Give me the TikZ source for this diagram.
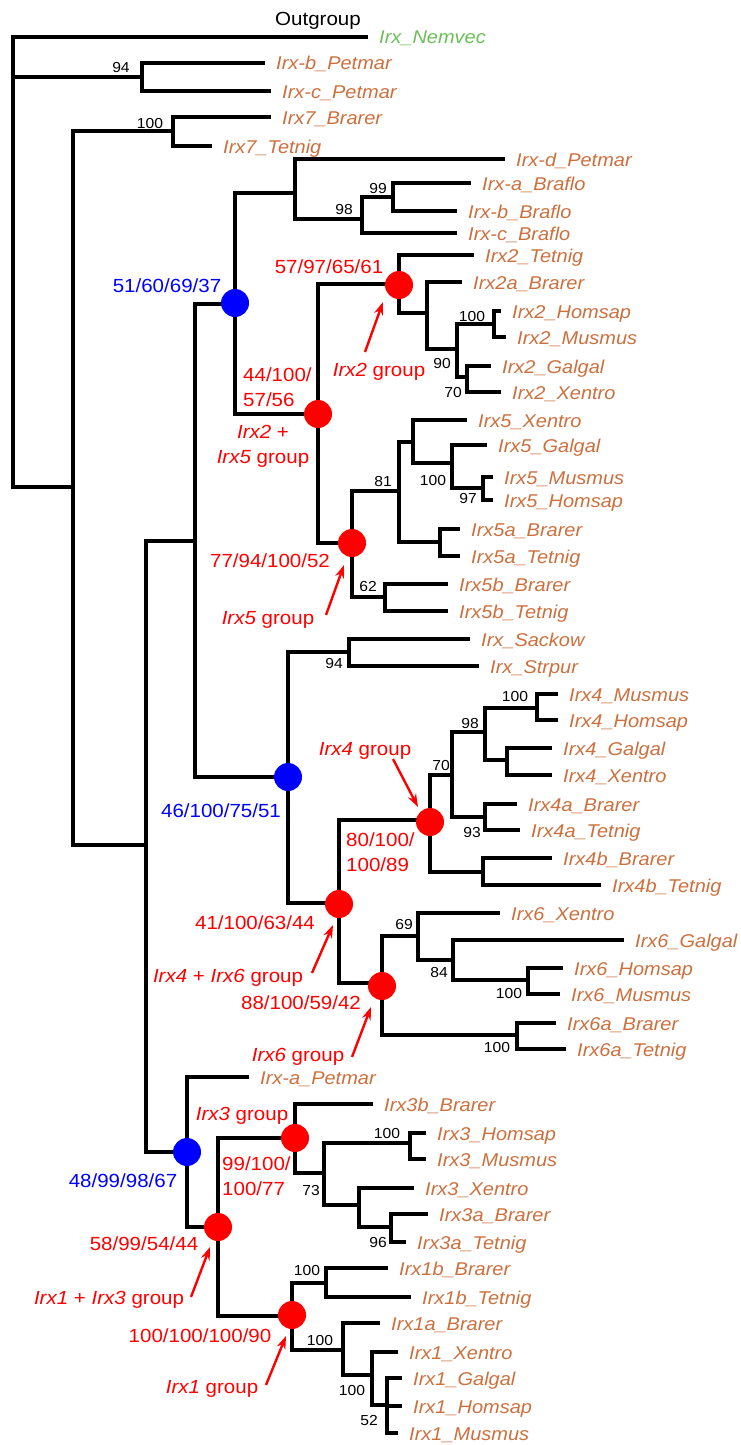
\documentclass[tikz,border=0pt]{standalone}
\usepackage{fontspec}
\setmainfont{Liberation Sans}[FakeStretch=1.08]
\usetikzlibrary{arrows.meta}
\definecolor{taxcol}{RGB}{204,112,62}
\definecolor{outcol}{RGB}{107,191,89}
\newcommand{\leaf}[4]{\coordinate (#1) at (#2-2,#3); \node[taxon] (#1-t) at (#2+11,#3+7) {#4};}
\newcommand{\inode}[3]{\coordinate (#1) at (#2,#3);}
\newcommand{\br}[2]{\draw[branch] (#1) |- (#2);}
\newcommand{\bs}[4]{\node[boot] (#1) at (#2,#3+5) {#4};}
\begin{document}
\begin{tikzpicture}[x=1pt,y=-1pt,
 branch/.style={line width=4.2pt, line join=miter, line cap=rect, black},
 taxon/.style={anchor=base west, inner sep=0pt, text=taxcol, font=\fontsize{18.5}{22}\selectfont\itshape},
 boot/.style={anchor=base, inner sep=0pt, font=\fontsize{14.5}{16}\selectfont},
 redlab/.style={anchor=base, inner sep=0pt, text=red, font=\fontsize{19}{25}\selectfont},
 bluelab/.style={redlab, text=blue},
 rdot/.style={circle, fill=red, minimum size=28pt, inner sep=0pt},
 bdot/.style={rdot, fill=blue},
 arr/.style={red, line width=2.4pt, -{Stealth[length=13pt,width=9pt]}}]
\path[fill=white] (0,0) rectangle (741,1445);
% internal nodes
\inode{R}{13}{487}
\inode{P1}{142}{77}
\inode{B}{73}{487}
\inode{S7}{173}{131}
\inode{C}{146}{845}
\inode{D}{195}{541}
\inode{F}{235}{304}
\inode{H}{295}{193}
\inode{J}{362}{219}
\inode{K}{393}{197}
\inode{I}{318}{414}
\inode{L}{399}{284}
\inode{N}{427}{313}
\inode{O}{457}{349}
\inode{P}{494}{324}
\inode{Q}{467}{377}
\inode{M}{352}{543}
\inode{S5}{399}{491}
\inode{U}{413}{442}
\inode{W}{452}{463}
\inode{X}{483}{488}
\inode{V}{440}{542}
\inode{T}{385}{597}
\inode{G}{288}{777}
\inode{Y}{349}{652}
\inode{Z}{339}{903}
\inode{AA}{430}{820}
\inode{AC}{452}{775}
\inode{AE}{485}{732}
\inode{AG}{537}{708}
\inode{AH}{507}{760}
\inode{AF}{485}{817}
\inode{AD}{483}{872}
\inode{AB}{382}{983}
\inode{AI}{418}{936}
\inode{AK}{453}{960}
\inode{AL}{528}{980}
\inode{AJ}{517}{1035}
\inode{E}{187}{1152}
\inode{AM}{218}{1227}
\inode{AN}{295}{1138}
\inode{AP}{324}{1173}
\inode{AQ}{410}{1143}
\inode{AR}{359}{1205}
\inode{AS}{391}{1227}
\inode{AO}{292}{1316}
\inode{AT}{326}{1283}
\inode{AU}{343}{1350}
\inode{AV}{372}{1375}
\inode{AW}{387}{1405}
% leaves
\leaf{nem}{368}{37}{\textcolor{outcol}{Irx\_Nemvec}}
\leaf{bpet}{265}{63}{Irx-b\_Petmar}
\leaf{cpet}{271}{91}{Irx-c\_Petmar}
\leaf{b7}{271}{117}{Irx7\_Brarer}
\leaf{t7}{212}{146}{Irx7\_Tetnig}
\leaf{dpet}{505}{159}{Irx-d\_Petmar}
\leaf{abra}{471}{183}{Irx-a\_Braflo}
\leaf{bbra}{457}{211}{Irx-b\_Braflo}
\leaf{cbra}{457}{233}{Irx-c\_Braflo}
\leaf{t2}{474}{255}{Irx2\_Tetnig}
\leaf{b2a}{462}{282}{Irx2a\_Brarer}
\leaf{h2}{501}{311}{Irx2\_Homsap}
\leaf{m2}{506}{337}{Irx2\_Musmus}
\leaf{g2}{491}{366}{Irx2\_Galgal}
\leaf{x2}{501}{392}{Irx2\_Xentro}
\leaf{x5}{467}{420}{Irx5\_Xentro}
\leaf{g5}{487}{445}{Irx5\_Galgal}
\leaf{m5}{493}{477}{Irx5\_Musmus}
\leaf{h5}{493}{500}{Irx5\_Homsap}
\leaf{b5a}{460}{529}{Irx5a\_Brarer}
\leaf{t5a}{460}{556}{Irx5a\_Tetnig}
\leaf{b5b}{448}{584}{Irx5b\_Brarer}
\leaf{t5b}{448}{611}{Irx5b\_Tetnig}
\leaf{sac}{470}{639}{Irx\_Sackow}
\leaf{str}{479}{666}{Irx\_Strpur}
\leaf{m4}{558}{694}{Irx4\_Musmus}
\leaf{h4}{558}{720}{Irx4\_Homsap}
\leaf{g4}{552}{748}{Irx4\_Galgal}
\leaf{x4}{552}{775}{Irx4\_Xentro}
\leaf{b4a}{517}{804}{Irx4a\_Brarer}
\leaf{t4a}{520}{830}{Irx4a\_Tetnig}
\leaf{b4b}{552}{858}{Irx4b\_Brarer}
\leaf{t4b}{601}{885}{Irx4b\_Tetnig}
\leaf{x6}{500}{913}{Irx6\_Xentro}
\leaf{g6}{624}{940}{Irx6\_Galgal}
\leaf{h6}{563}{968}{Irx6\_Homsap}
\leaf{m6}{560}{994}{Irx6\_Musmus}
\leaf{b6a}{556}{1023}{Irx6a\_Brarer}
\leaf{t6a}{566}{1049}{Irx6a\_Tetnig}
\leaf{apet}{249}{1077}{Irx-a\_Petmar}
\leaf{b3b}{373}{1104}{Irx3b\_Brarer}
\leaf{h3}{426}{1133}{Irx3\_Homsap}
\leaf{m3}{426}{1159}{Irx3\_Musmus}
\leaf{x3}{414}{1188}{Irx3\_Xentro}
\leaf{b3a}{428}{1214}{Irx3a\_Brarer}
\leaf{t3a}{406}{1242}{Irx3a\_Tetnig}
\leaf{b1b}{388}{1268}{Irx1b\_Brarer}
\leaf{t1b}{411}{1297}{Irx1b\_Tetnig}
\leaf{b1a}{380}{1323}{Irx1a\_Brarer}
\leaf{x1}{398}{1352}{Irx1\_Xentro}
\leaf{g1}{402}{1378}{Irx1\_Galgal}
\leaf{h1}{402}{1406}{Irx1\_Homsap}
\leaf{m1}{398}{1433}{Irx1\_Musmus}
% branches
\br{R}{nem}\br{R}{P1}\br{R}{B}
\br{P1}{bpet}\br{P1}{cpet}
\br{B}{S7}\br{B}{C}
\br{S7}{b7}\br{S7}{t7}
\br{C}{D}\br{C}{E}
\br{D}{F}\br{D}{G}
\br{F}{H}\br{F}{I}
\br{H}{dpet}\br{H}{J}
\br{J}{K}\br{J}{cbra}
\br{K}{abra}\br{K}{bbra}
\br{I}{L}\br{I}{M}
\br{L}{t2}\br{L}{N}
\br{N}{b2a}\br{N}{O}
\br{O}{P}\br{O}{Q}
\br{P}{h2}\br{P}{m2}
\br{Q}{g2}\br{Q}{x2}
\br{M}{S5}\br{M}{T}
\br{S5}{U}\br{S5}{V}
\br{U}{x5}\br{U}{W}
\br{W}{g5}\br{W}{X}
\br{X}{m5}\br{X}{h5}
\br{V}{b5a}\br{V}{t5a}
\br{T}{b5b}\br{T}{t5b}
\br{G}{Y}\br{G}{Z}
\br{Y}{sac}\br{Y}{str}
\br{Z}{AA}\br{Z}{AB}
\br{AA}{AC}\br{AA}{AD}
\br{AC}{AE}\br{AC}{AF}
\br{AE}{AG}\br{AE}{AH}
\br{AG}{m4}\br{AG}{h4}
\br{AH}{g4}\br{AH}{x4}
\br{AF}{b4a}\br{AF}{t4a}
\br{AD}{b4b}\br{AD}{t4b}
\br{AB}{AI}\br{AB}{AJ}
\br{AI}{x6}\br{AI}{AK}
\br{AK}{g6}\br{AK}{AL}
\br{AL}{h6}\br{AL}{m6}
\br{AJ}{b6a}\br{AJ}{t6a}
\br{E}{apet}\br{E}{AM}
\br{AM}{AN}\br{AM}{AO}
\br{AN}{b3b}\br{AN}{AP}
\br{AP}{AQ}\br{AP}{AR}
\br{AQ}{h3}\br{AQ}{m3}
\br{AR}{x3}\br{AR}{AS}
\br{AS}{b3a}\br{AS}{t3a}
\br{AO}{AT}\br{AO}{AU}
\br{AT}{b1b}\br{AT}{t1b}
\br{AU}{b1a}\br{AU}{AV}
\br{AV}{x1}\br{AV}{AW}
\br{AW}{g1}\br{AW}{h1}\br{AW}{m1}
% bootstrap values
\bs{b94a}{121}{68}{94}
\bs{b100a}{150}{123}{100}
\bs{b98a}{344}{209}{98}
\bs{b99a}{378}{188}{99}
\bs{b90}{442}{363}{90}
\bs{b100b}{472}{316}{100}
\bs{b70a}{453}{392}{70}
\bs{b81}{383}{481}{81}
\bs{b100c}{433}{480}{100}
\bs{b97}{468}{498}{97}
\bs{b62}{368}{586}{62}
\bs{b94b}{334}{663}{94}
\bs{b70b}{441}{765}{70}
\bs{b98b}{470}{723}{98}
\bs{b100d}{515}{696}{100}
\bs{b93}{472}{832}{93}
\bs{b69}{404}{924}{69}
\bs{b84}{439}{972}{84}
\bs{b100e}{509}{993}{100}
\bs{b100f}{497}{1047}{100}
\bs{b73}{311}{1190}{73}
\bs{b100g}{387}{1133}{100}
\bs{b96}{378}{1242}{96}
\bs{b100h}{307}{1270}{100}
\bs{b100i}{320}{1340}{100}
\bs{b100j}{352}{1390}{100}
\bs{b52}{369}{1420}{52}
% group dots
\node[bdot] (Fd) at (235,303) {};
\node[bdot] (Gd) at (288,777) {};
\node[bdot] (Ed) at (187,1152) {};
\node[rdot] (Ld) at (399,285) {};
\node[rdot] (Id) at (318,414) {};
\node[rdot] (Md) at (352,543) {};
\node[rdot] (Zd) at (339,904) {};
\node[rdot] (AAd) at (430,822) {};
\node[rdot] (ABd) at (382,986) {};
\node[rdot] (ANd) at (295,1138) {};
\node[rdot] (AMd) at (218,1227) {};
\node[rdot] (AOd) at (292,1315) {};
% group labels
\node[anchor=base, inner sep=0pt, font=\fontsize{19}{22}\selectfont] (og) at (318,26) {Outgroup};
\node[bluelab] (l51) at (167,292) {51/60/69/37};
\node[bluelab] (l46) at (221,817) {46/100/75/51};
\node[bluelab] (l48) at (123,1187) {48/99/98/67};
\node[redlab] (l57) at (329,273) {57/97/65/61};
\node[redlab, anchor=west, align=left] (l44) at (243,387) {44/100/\\57/56};
\node[redlab, anchor=center, align=center] (l25) at (263,446) {\textit{Irx2} +\\\textit{Irx5} group};
\node[redlab] (lg2) at (379,376) {\textit{Irx2} group};
\node[redlab] (l77) at (270,567) {77/94/100/52};
\node[redlab] (lg5) at (268,624) {\textit{Irx5} group};
\node[redlab] (lg4) at (365,755) {\textit{Irx4} group};
\node[redlab, anchor=west, align=left] (l80) at (346,852) {80/100/\\100/89};
\node[redlab] (l41) at (255,929) {41/100/63/44};
\node[redlab] (lg46) at (228,982) {\textit{Irx4} + \textit{Irx6} group};
\node[redlab] (l88) at (301,1009) {88/100/59/42};
\node[redlab] (lg6) at (298,1061) {\textit{Irx6} group};
\node[redlab] (lg3) at (242,1120) {\textit{Irx3} group};
\node[redlab, anchor=west, align=left] (l99) at (222,1176) {99/100/\\100/77};
\node[redlab] (l58) at (144,1250) {58/99/54/44};
\node[redlab] (lg13) at (109,1304) {\textit{Irx1} + \textit{Irx3} group};
\node[redlab] (l100) at (200,1342) {100/100/100/90};
\node[redlab] (lg1) at (212,1393) {\textit{Irx1} group};
% arrows
\coordinate (a2s) at (365,352); \coordinate (a2e) at (383,302);
\coordinate (a5s) at (326,615); \coordinate (a5e) at (344,565);
\coordinate (a4s) at (393,759); \coordinate (a4e) at (418,807);
\coordinate (a46s) at (312,973); \coordinate (a46e) at (333,925);
\coordinate (a6s) at (352,1057); \coordinate (a6e) at (371,1007);
\coordinate (a13s) at (191,1297); \coordinate (a13e) at (210,1247);
\coordinate (a1s) at (266,1385); \coordinate (a1e) at (286,1336);
\draw[arr] (a2s) -- (a2e);
\draw[arr] (a5s) -- (a5e);
\draw[arr] (a4s) -- (a4e);
\draw[arr] (a46s) -- (a46e);
\draw[arr] (a6s) -- (a6e);
\draw[arr] (a13s) -- (a13e);
\draw[arr] (a1s) -- (a1e);
\end{tikzpicture}
\end{document}
